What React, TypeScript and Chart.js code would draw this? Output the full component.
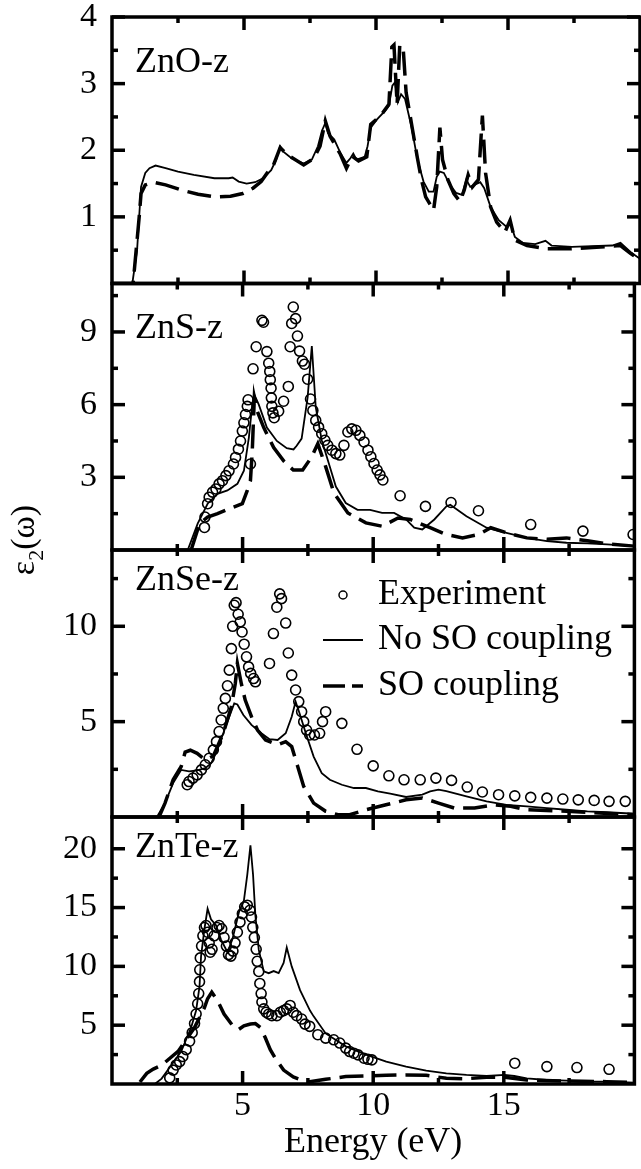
import React, { useEffect, useRef } from 'react';
import { Chart, registerables } from 'chart.js';

Chart.register(...registerables);

const FONT = "'Liberation Serif', 'Times New Roman', serif";

// ---------- shared x axis ----------
const xMin = 0;
const xMax = 20;
const xMajorTicks = [5, 10, 15];
const xMinorTicks = [2.5, 7.5, 12.5, 17.5];

// ---------- ZnO-z ----------
const znoNoSoE = [0, 0.77, 0.95, 1.1, 1.26, 1.42, 1.65, 2.03, 2.5, 3.1, 3.88, 4.42, 4.57, 4.8, 5.1, 5.42, 5.72, 6.03, 6.22, 6.37, 6.49, 6.8, 7.26, 7.57, 7.8, 7.95, 8.08, 8.18, 8.42, 8.65, 8.88, 9.03, 9.14, 9.26, 9.57, 9.68, 9.8, 10.03, 10.34, 10.49, 10.62, 10.72, 10.83, 10.95, 11.1, 11.34, 11.57, 11.8, 12.0, 12.18, 12.3, 12.42, 12.57, 12.8, 13.03, 13.26, 13.42, 13.57, 13.72, 13.95, 14.1, 14.34, 14.65, 14.95, 15.08, 15.26, 15.57, 16.03, 16.42, 16.65, 17.42, 18.18, 18.95, 19.26, 19.65, 20.0];
const znoNoSoV = [0, 0, 0.5, 1.45, 1.66, 1.73, 1.77, 1.73, 1.68, 1.63, 1.58, 1.58, 1.59, 1.53, 1.5, 1.52, 1.58, 1.7, 1.86, 2.06, 1.98, 1.88, 1.8, 1.86, 2.06, 2.29, 2.41, 2.26, 2.16, 1.96, 1.81, 1.88, 1.95, 1.86, 1.9, 2.06, 2.34, 2.46, 2.59, 2.67, 2.97, 3.02, 2.72, 2.84, 2.77, 2.36, 1.86, 1.53, 1.38, 1.38, 1.6, 1.68, 1.66, 1.48, 1.36, 1.33, 1.56, 1.45, 1.48, 1.52, 1.43, 1.15, 0.95, 0.85, 0.92, 0.7, 0.61, 0.59, 0.64, 0.57, 0.55, 0.56, 0.57, 0.61, 0.47, 0.37];
const znoSoE = [0, 0.8, 1.03, 1.1, 1.26, 1.57, 2.03, 2.65, 3.26, 3.88, 4.49, 4.95, 5.34, 5.65, 5.88, 6.1, 6.37, 6.65, 7.26, 7.65, 7.88, 8.08, 8.26, 8.65, 8.88, 9.1, 9.34, 9.65, 9.8, 10.18, 10.49, 10.6, 10.68, 10.8, 10.9, 11.03, 11.14, 11.34, 11.57, 11.72, 11.88, 12.18, 12.3, 12.42, 12.52, 12.72, 12.95, 13.18, 13.34, 13.49, 13.65, 13.88, 14.03, 14.15, 14.34, 14.57, 14.88, 15.08, 15.26, 15.72, 16.49, 17.4, 18.2, 18.95, 19.26, 19.65, 20.0];
const znoSoV = [0, 0, 1.0, 1.35, 1.48, 1.52, 1.48, 1.4, 1.34, 1.3, 1.31, 1.35, 1.43, 1.53, 1.66, 1.76, 2.04, 1.93, 1.78, 1.88, 2.06, 2.44, 2.21, 1.94, 1.73, 1.91, 1.84, 1.9, 2.39, 2.52, 2.69, 3.55, 3.58, 2.69, 3.58, 3.53, 2.87, 2.41, 1.88, 1.56, 1.3, 1.1, 1.45, 2.34, 1.86, 1.56, 1.35, 1.23, 1.4, 1.63, 1.45, 1.56, 2.52, 1.66, 1.15, 0.92, 0.77, 0.95, 0.65, 0.57, 0.52, 0.52, 0.54, 0.56, 0.57, 0.45, 0.35];

// ---------- ZnS-z ----------
const znsNoSoE = [2.9, 3.28, 3.66, 4.04, 4.42, 4.8, 5.05, 5.24, 5.37, 5.45, 5.62, 5.93, 6.31, 6.69, 6.95, 7.07, 7.26, 7.49, 7.65, 7.8, 8.03, 8.34, 8.57, 8.95, 9.4, 9.88, 10.34, 10.8, 11.26, 11.57, 11.88, 12.34, 12.8, 12.95, 13.57, 14.34, 15.1, 15.88, 16.65, 17.4, 18.2, 18.95, 20.0];
const znsNoSoV = [0, 1.09, 1.91, 2.32, 2.46, 2.73, 3.27, 4.64, 6.0, 6.41, 6.0, 5.05, 4.5, 4.2, 4.15, 4.3, 4.6, 6.3, 8.42, 5.9, 4.53, 3.44, 2.62, 1.94, 1.66, 1.66, 1.53, 1.53, 1.26, 0.92, 0.85, 1.26, 1.8, 1.87, 1.39, 0.92, 0.71, 0.5, 0.37, 0.3, 0.27, 0.23, 0.16];
const znsSoE = [3.03, 3.35, 3.66, 4.04, 4.48, 4.99, 5.18, 5.3, 5.37, 5.45, 5.56, 5.81, 6.19, 6.57, 6.94, 7.3, 7.65, 7.88, 8.18, 8.5, 9.03, 9.72, 10.34, 10.95, 11.42, 12.18, 12.8, 13.42, 14.03, 14.5, 15.1, 15.88, 16.65, 17.4, 18.2, 18.95, 20.0];
const znsSoV = [0, 1.09, 1.36, 1.5, 1.7, 1.91, 2.46, 2.86, 4.09, 6.3, 5.73, 5.05, 4.23, 3.68, 3.3, 3.3, 3.85, 4.39, 3.44, 2.35, 1.53, 1.12, 0.98, 1.32, 1.26, 0.92, 0.64, 0.5, 0.64, 0.92, 0.71, 0.5, 0.44, 0.5, 0.38, 0.25, 0.16];
const znsExpE = [3.54, 3.56, 3.66, 3.72, 3.85, 3.98, 4.1, 4.23, 4.36, 4.48, 4.65, 4.73, 4.84, 4.92, 4.99, 5.05, 5.11, 5.18, 5.21, 5.3, 5.4, 5.52, 5.74, 5.8, 5.93, 6.0, 6.04, 6.06, 6.09, 6.1, 6.12, 6.16, 6.21, 6.38, 6.57, 6.75, 6.82, 6.88, 6.94, 7.03, 7.1, 7.18, 7.29, 7.37, 7.49, 7.6, 7.69, 7.8, 7.91, 8.03, 8.15, 8.26, 8.42, 8.57, 8.72, 8.88, 9.03, 9.18, 9.34, 9.49, 9.65, 9.8, 9.91, 10.03, 10.15, 10.26, 10.37, 11.03, 12.0, 12.98, 14.03, 16.03, 18.03, 19.95];
const znsExpV = [0.93, 1.36, 1.91, 2.18, 2.39, 2.52, 2.73, 2.86, 3.07, 3.27, 3.55, 3.82, 4.16, 4.5, 4.91, 5.25, 5.59, 5.93, 6.2, 3.55, 7.48, 8.39, 9.48, 9.4, 8.19, 7.71, 7.37, 7.03, 6.68, 6.28, 5.93, 5.66, 5.46, 5.73, 6.14, 6.75, 8.39, 9.35, 10.03, 9.55, 8.83, 8.21, 7.8, 7.67, 7.05, 6.23, 5.76, 5.35, 5.07, 4.8, 4.53, 4.32, 4.12, 3.98, 3.92, 4.32, 4.87, 5.0, 4.94, 4.73, 4.46, 4.12, 3.85, 3.57, 3.3, 3.1, 2.89, 2.24, 1.8, 1.96, 1.62, 1.05, 0.78, 0.64];

// ---------- ZnSe-z ----------
const znseNoSoE = [1.72, 2.03, 2.34, 2.65, 2.95, 3.26, 3.57, 3.8, 4.03, 4.26, 4.49, 4.68, 4.8, 5.03, 5.34, 5.72, 6.03, 6.34, 6.65, 6.88, 7.03, 7.18, 7.42, 7.72, 8.03, 8.34, 8.8, 9.26, 9.72, 10.18, 10.65, 11.26, 11.88, 12.18, 12.5, 12.8, 13.57, 14.34, 15.1, 15.88, 16.65, 17.4, 18.2, 18.95, 20.0];
const znseNoSoV = [0, 0.73, 1.78, 2.47, 2.39, 2.45, 2.56, 2.82, 3.52, 4.39, 5.26, 5.96, 5.9, 5.35, 4.83, 4.39, 4.08, 4.04, 4.39, 5.26, 6.05, 5.44, 4.39, 3.17, 2.3, 1.95, 1.69, 1.52, 1.52, 1.34, 1.22, 1.05, 1.17, 1.34, 1.43, 1.36, 1.08, 0.82, 0.64, 0.56, 0.47, 0.38, 0.3, 0.25, 0.17];
const znseSoE = [1.8, 2.03, 2.34, 2.65, 2.8, 3.0, 3.26, 3.57, 3.88, 4.26, 4.57, 4.72, 4.8, 4.95, 5.1, 5.34, 5.57, 5.88, 6.34, 6.65, 6.88, 7.11, 7.34, 7.72, 8.18, 8.65, 9.1, 9.72, 10.49, 11.26, 11.88, 12.5, 13.1, 13.88, 14.65, 15.26, 15.88, 17.4, 20.0];
const znseSoV = [0, 0.73, 1.95, 2.65, 3.4, 3.5, 3.34, 3.0, 3.2, 4.39, 5.78, 7.0, 8.05, 7.0, 6.13, 5.26, 4.56, 4.04, 3.78, 3.95, 3.69, 2.65, 1.6, 0.73, 0.3, 0.12, 0.12, 0.38, 0.64, 0.9, 1.0, 0.73, 0.47, 0.47, 0.64, 0.56, 0.38, 0.3, 0.12];
const znseExpE = [2.88, 2.95, 3.1, 3.26, 3.42, 3.57, 3.72, 3.88, 4.0, 4.1, 4.18, 4.26, 4.34, 4.42, 4.49, 4.57, 4.62, 4.68, 4.75, 4.83, 4.91, 4.98, 5.06, 5.15, 5.23, 5.31, 5.42, 5.49, 6.03, 6.18, 6.31, 6.42, 6.49, 6.65, 6.75, 6.88, 7.03, 7.15, 7.26, 7.34, 7.45, 7.57, 7.75, 7.95, 8.06, 8.18, 8.8, 9.38, 10.0, 10.6, 11.18, 11.8, 12.4, 13.0, 13.6, 14.18, 14.8, 15.42, 16.03, 16.65, 17.26, 17.85, 18.46, 19.03, 19.65];
const znseExpV = [1.69, 1.86, 2.04, 2.21, 2.47, 2.74, 3.08, 3.52, 3.95, 4.48, 5.09, 5.7, 6.22, 6.88, 7.7, 8.83, 10.0, 11.1, 11.24, 10.63, 10.23, 9.7, 9.06, 8.4, 7.87, 7.53, 7.26, 7.09, 8.05, 9.62, 11.0, 11.7, 11.45, 10.17, 8.6, 7.44, 6.66, 6.05, 5.52, 5.0, 4.56, 4.3, 4.3, 4.39, 5.0, 5.52, 4.91, 3.55, 2.68, 2.16, 1.95, 1.95, 2.04, 1.92, 1.57, 1.31, 1.17, 1.11, 1.03, 0.99, 0.94, 0.9, 0.87, 0.82, 0.82];

// ---------- ZnTe-z ----------
const znteNoSoE = [1.64, 1.9, 2.27, 2.65, 3.03, 3.22, 3.35, 3.41, 3.54, 3.66, 3.79, 3.98, 4.17, 4.42, 4.61, 4.86, 5.05, 5.18, 5.3, 5.4, 5.49, 5.62, 5.81, 6.0, 6.19, 6.38, 6.57, 6.69, 6.88, 7.2, 7.58, 7.72, 8.18, 8.95, 9.72, 10.5, 11.26, 12.03, 12.8, 13.57, 14.34, 15.03, 15.4, 15.88, 16.65, 17.4, 18.2, 18.95, 20.0];
const znteNoSoV = [0, 0.46, 1.6, 2.77, 4.8, 6.24, 8.27, 10.87, 13.2, 14.9, 14.0, 13.5, 12.3, 11.2, 12.3, 14.6, 15.6, 17.8, 20.3, 17.8, 14.3, 11.4, 9.57, 9.42, 9.6, 9.42, 10.3, 11.6, 10.0, 7.98, 6.24, 5.75, 4.3, 3.2, 2.5, 1.9, 1.48, 1.14, 0.91, 0.77, 0.68, 0.77, 0.68, 0.48, 0.34, 0.28, 0.2, 0.2, 0.12];
const znteSoE = [1.07, 1.33, 1.58, 1.9, 2.53, 3.16, 3.54, 3.66, 3.82, 4.04, 4.29, 4.67, 4.86, 5.05, 5.3, 5.49, 5.68, 5.87, 6.06, 6.25, 6.57, 6.94, 7.39, 7.57, 8.18, 8.95, 9.72, 10.5, 11.26, 12.03, 12.8, 13.57, 14.34, 15.03, 15.88, 17.4, 18.95, 20.0];
const znteSoV = [0.17, 0.9, 1.27, 1.6, 2.77, 4.8, 6.5, 7.25, 7.8, 7.1, 5.95, 4.8, 4.65, 4.94, 5.1, 5.14, 4.8, 3.93, 2.92, 2.2, 1.18, 0.6, 0.23, 0.2, 0.4, 0.63, 0.68, 0.74, 0.77, 0.74, 0.48, 0.45, 0.57, 0.57, 0.34, 0.25, 0.2, 0.12];
const znteExpE = [2.21, 2.34, 2.46, 2.59, 2.71, 2.84, 2.97, 3.07, 3.16, 3.22, 3.28, 3.32, 3.35, 3.36, 3.38, 3.43, 3.48, 3.54, 3.6, 3.66, 3.72, 3.76, 3.83, 3.91, 4.02, 4.1, 4.2, 4.29, 4.38, 4.46, 4.55, 4.63, 4.71, 4.8, 4.9, 4.99, 5.08, 5.18, 5.28, 5.34, 5.39, 5.45, 5.52, 5.56, 5.62, 5.66, 5.71, 5.74, 5.81, 5.9, 6.0, 6.12, 6.31, 6.44, 6.57, 6.69, 6.82, 6.94, 7.07, 7.26, 7.39, 7.57, 7.88, 8.18, 8.49, 8.72, 8.95, 9.1, 9.26, 9.42, 9.65, 9.8, 9.95, 15.42, 16.65, 17.8, 19.03];
const znteExpV = [0.52, 1.18, 1.62, 1.9, 2.34, 2.92, 3.64, 4.36, 5.14, 5.95, 6.82, 7.69, 8.7, 9.71, 10.72, 11.73, 12.6, 13.3, 13.47, 12.9, 12.0, 11.2, 11.45, 12.6, 13.3, 13.47, 13.2, 12.45, 11.73, 11.0, 10.87, 11.3, 12.0, 12.9, 13.76, 14.48, 15.06, 15.2, 14.77, 14.2, 13.32, 12.45, 11.45, 10.43, 9.57, 8.55, 7.69, 6.97, 6.39, 6.1, 5.95, 5.81, 5.81, 6.1, 6.24, 6.39, 6.68, 6.1, 5.81, 5.52, 5.09, 4.9, 4.19, 3.9, 3.76, 3.48, 3.05, 2.76, 2.62, 2.48, 2.19, 2.1, 2.05, 1.77, 1.48, 1.4, 1.25];

// ---------- panel y axes ----------
const panelLabels = ['ZnO-z', 'ZnS-z', 'ZnSe-z', 'ZnTe-z'];
const panelYMax = [4, 11, 14, 22.7];
const panelYMajor = [[1, 2, 3, 4], [3, 6, 9], [5, 10], [5, 10, 15, 20]];
const panelYMinor = [[0.5, 1.5, 2.5, 3.5], [1.5, 4.5, 7.5, 10.5], [2.5, 7.5, 12.5], [2.5, 7.5, 12.5, 17.5]];

const legendLabels = ['Experiment', 'No SO coupling', 'SO coupling'];
const xTitle = 'Energy (eV)';

// ---------- layout (pixels) ----------
const W = 641;
const H = 1169;
const panelTop = [17, 283.5, 550, 817];
const panelBottom = [283.5, 550, 817, 1084];
const labelDy = [55, 54.5, 40, 40];
const AXIS_W = 112;

type P = { x: number; y: number };
const pts = (xs: number[], ys: number[]): P[] => {
  const n = Math.min(xs.length, ys.length);
  const out: P[] = [];
  for (let i = 0; i < n; i++) out.push({ x: xs[i], y: ys[i] });
  return out;
};

const panelSeries: { noSo: P[]; so: P[]; exp: P[] | null }[] = [
  { noSo: pts(znoNoSoE, znoNoSoV), so: pts(znoSoE, znoSoV), exp: null },
  { noSo: pts(znsNoSoE, znsNoSoV), so: pts(znsSoE, znsSoV), exp: pts(znsExpE, znsExpV) },
  { noSo: pts(znseNoSoE, znseNoSoV), so: pts(znseSoE, znseSoV), exp: pts(znseExpE, znseExpV) },
  { noSo: pts(znteNoSoE, znteNoSoV), so: pts(znteSoE, znteSoV), exp: pts(znteExpE, znteExpV) },
];

const SOLID_W = 1.8;
const DASH_W = 3.5;
const DASH = [24, 9];

function makeConfig(i: number): any {
  const isLast = i === 3;
  const s = panelSeries[i];
  const datasets: any[] = [];
  if (s.exp) {
    datasets.push({
      label: legendLabels[0],
      data: s.exp,
      showLine: false,
      pointRadius: 5,
      pointBorderWidth: 1.6,
      pointBorderColor: '#000',
      pointBackgroundColor: 'rgba(0,0,0,0)',
      pointStyle: 'circle',
    });
  }
  datasets.push({
    label: legendLabels[1],
    data: s.noSo,
    borderColor: '#000',
    borderWidth: SOLID_W,
    pointRadius: 0,
    tension: 0,
    fill: false,
  });
  datasets.push({
    label: legendLabels[2],
    data: s.so,
    borderColor: '#000',
    borderWidth: DASH_W,
    borderDash: DASH,
    pointRadius: 0,
    tension: 0,
    fill: false,
  });

  const framePlugin = {
    id: 'frame' + i,
    afterDatasetsDraw(chart: any) {
      const { ctx, chartArea: a, scales } = chart;
      const xs = scales.x;
      const ys = scales.y;
      ctx.save();
      ctx.strokeStyle = '#000';
      ctx.fillStyle = '#000';
      ctx.lineWidth = 3.5;
      ctx.lineCap = 'butt';
      ctx.setLineDash([]);
      ctx.strokeRect(a.left, a.top, a.right - a.left, a.bottom - a.top);
      const seg = (x1: number, y1: number, x2: number, y2: number) => {
        ctx.beginPath();
        ctx.moveTo(x1, y1);
        ctx.lineTo(x2, y2);
        ctx.stroke();
      };
      const MAJ = 13;
      const MIN = 6;
      xMajorTicks.forEach((v) => {
        const px = xs.getPixelForValue(v);
        seg(px, a.top, px, a.top + MAJ);
        seg(px, a.bottom, px, a.bottom - MAJ);
      });
      xMinorTicks.forEach((v) => {
        const px = xs.getPixelForValue(v);
        seg(px, a.top, px, a.top + MIN);
        seg(px, a.bottom, px, a.bottom - MIN);
      });
      panelYMajor[i].forEach((v) => {
        const py = ys.getPixelForValue(v);
        seg(a.left, py, a.left + MAJ, py);
        seg(a.right, py, a.right - MAJ, py);
      });
      panelYMinor[i].forEach((v) => {
        const py = ys.getPixelForValue(v);
        seg(a.left, py, a.left + MIN, py);
        seg(a.right, py, a.right - MIN, py);
      });
      // panel label
      ctx.font = `36px ${FONT}`;
      ctx.textBaseline = 'alphabetic';
      ctx.textAlign = 'left';
      ctx.fillText(panelLabels[i], a.left + 23, a.top + labelDy[i]);

      // legend (ZnSe panel)
      if (i === 2) {
        const lx = a.left + 211;
        const tx = a.left + 266;
        const y0 = a.top + 45;
        const y1 = a.top + 90;
        const y2 = a.top + 136;
        ctx.lineWidth = 1.5;
        ctx.beginPath();
        ctx.arc(a.left + 231, y0, 4, 0, Math.PI * 2);
        ctx.stroke();
        ctx.lineWidth = SOLID_W;
        seg(lx, y1, lx + 40, y1);
        ctx.lineWidth = DASH_W;
        seg(lx, y2, lx + 22, y2);
        seg(lx + 29, y2, lx + 40, y2);
        ctx.font = `36px ${FONT}`;
        ctx.fillText(legendLabels[0], tx, y0 + 9);
        ctx.fillText(legendLabels[1], tx, y1 + 9);
        ctx.fillText(legendLabels[2], tx, y2 + 9);
      }
      ctx.restore();
    },
  };

  return {
    type: 'line',
    data: { datasets },
    plugins: [framePlugin],
    options: {
      animation: false,
      responsive: false,
      devicePixelRatio: 1,
      events: [],
      layout: {
        padding: {
          left: 0,
          right: W - 640,
          top: panelTop[i],
          bottom: isLast ? 0 : H - panelBottom[i],
        },
      },
      plugins: {
        legend: { display: false },
        tooltip: { enabled: false },
        title: { display: false },
      },
      scales: {
        x: {
          type: 'linear',
          min: xMin,
          max: xMax,
          display: isLast,
          grid: { display: false, drawTicks: false },
          border: { display: false },
          afterBuildTicks: (sc: any) => {
            sc.ticks = xMajorTicks.map((v) => ({ value: v }));
          },
          afterFit: (sc: any) => {
            sc.height = isLast ? H - 1084 : 0;
            sc.paddingLeft = 0;
            sc.paddingRight = 0;
          },
          ticks: {
            autoSkip: false,
            maxRotation: 0,
            padding: 2,
            color: '#000',
            font: { family: FONT, size: 34 },
            callback: (v: any) => String(v),
          },
          title: {
            display: isLast,
            text: xTitle,
            color: '#000',
            font: { family: FONT, size: 36, lineHeight: 0.8 },
            padding: { top: 0, bottom: 12 },
          },
        },
        y: {
          type: 'linear',
          min: 0,
          max: panelYMax[i],
          grid: { display: false, drawTicks: false },
          border: { display: false },
          afterBuildTicks: (sc: any) => {
            sc.ticks = panelYMajor[i].map((v) => ({ value: v }));
          },
          afterFit: (sc: any) => {
            sc.width = AXIS_W;
            sc.paddingTop = 0;
            sc.paddingBottom = 0;
          },
          ticks: {
            autoSkip: false,
            padding: 15,
            color: '#000',
            font: { family: FONT, size: 34 },
            callback: (v: any) => String(v),
          },
        },
      },
    },
  };
}

export default function App() {
  const canvases = useRef<(HTMLCanvasElement | null)[]>([]);

  useEffect(() => {
    const charts: Chart[] = [];
    for (let i = 0; i < 4; i++) {
      const c = canvases.current[i];
      if (c) charts.push(new Chart(c, makeConfig(i)));
    }
    return () => {
      charts.forEach((c) => c.destroy());
    };
  }, []);

  return (
    <div
      style={{
        position: 'absolute',
        left: 0,
        top: 0,
        width: W,
        height: H,
        background: '#fff',
        overflow: 'hidden',
      }}
    >
      {[0, 1, 2, 3].map((i) => (
        <canvas
          key={i}
          ref={(el) => {
            canvases.current[i] = el;
          }}
          width={W}
          height={H}
          style={{ position: 'absolute', left: 0, top: 0, width: W, height: H }}
        />
      ))}
      <div
        style={{
          position: 'absolute',
          left: 23 - 70,
          top: 540 - 20,
          width: 140,
          height: 40,
          lineHeight: '40px',
          textAlign: 'center',
          transform: 'rotate(-90deg)',
          fontFamily: FONT,
          fontSize: 34,
          color: '#000',
          whiteSpace: 'nowrap',
        }}
      >
        ε<span style={{ fontSize: 22, position: 'relative', top: 9 }}>2</span>(ω)
      </div>
    </div>
  );
}
